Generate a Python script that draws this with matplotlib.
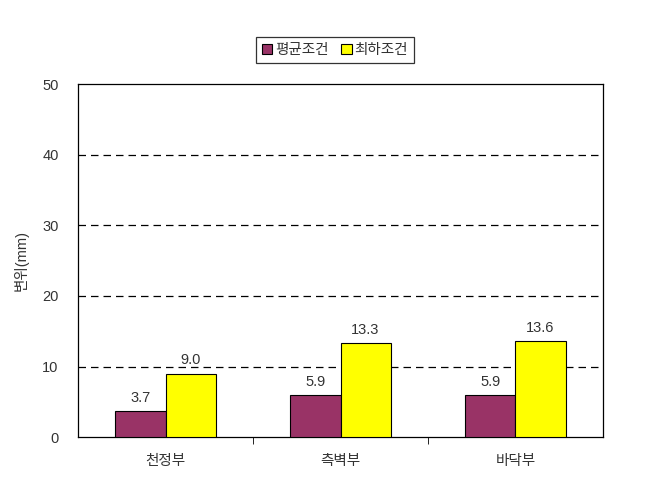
import matplotlib.pyplot as plt
import numpy as np

plt.rcParams['font.family'] = ['Liberation Sans', 'Noto Sans CJK KR', 'DejaVu Sans']

categories = ['천정부', '측벽부', '바닥부']
avg_vals = [3.7, 5.9, 5.9]
min_vals = [9.0, 13.3, 13.6]
series_names = ['평균조건', '최하조건']

fig = plt.figure(figsize=(6.67, 4.83), dpi=100)
ax = fig.add_axes([0.117, 0.095, 0.787, 0.731])

x = np.arange(len(categories))
w = 0.286
b1 = ax.bar(x - w / 2, avg_vals, w, color='#993366', edgecolor='black', linewidth=0.8, label=series_names[0], zorder=3)
b2 = ax.bar(x + w / 2, min_vals, w, color='#FFFF00', edgecolor='black', linewidth=0.8, label=series_names[1], zorder=3)

for bars in (b1, b2):
    for r in bars:
        ax.text(r.get_x() + r.get_width() / 2, r.get_height() + 0.9, f'{r.get_height():.1f}',
                ha='center', va='bottom', fontsize=10.5, color='#333333')

ax.set_xlim(-0.5, 2.5)
ax.set_ylim(0, 50)
ax.set_yticks([0, 10, 20, 30, 40, 50])
ax.tick_params(axis='y', length=0, pad=14, labelsize=10.5, labelcolor='#333333')
ax.set_xticks(x)
ax.set_xticklabels(categories)
ax.tick_params(axis='x', length=0, pad=12, labelsize=10.5, labelcolor='#333333')
ax.set_xticks([0.5, 1.5], minor=True)
ax.tick_params(axis='x', which='minor', length=5, direction='out', color='black')

for yv in [10, 20, 30, 40]:
    ax.axhline(yv, color='black', linestyle=(0, (6, 4)), linewidth=0.9, zorder=1)

for s in ax.spines.values():
    s.set_linewidth(0.9)

ax.set_ylabel('변위(mm)', fontsize=10.5, color='#333333', labelpad=10)

leg = fig.legend(loc='center', bbox_to_anchor=(0.502, 0.897), ncol=2, fontsize=10.5,
                 frameon=True, fancybox=False, edgecolor='black', handlelength=0.7,
                 handleheight=0.7, handletextpad=0.2, columnspacing=0.9, borderpad=0.4)
leg.get_frame().set_linewidth(0.9)
for t in leg.get_texts():
    t.set_color('#333333')

fig.savefig('out.png', dpi=100)
